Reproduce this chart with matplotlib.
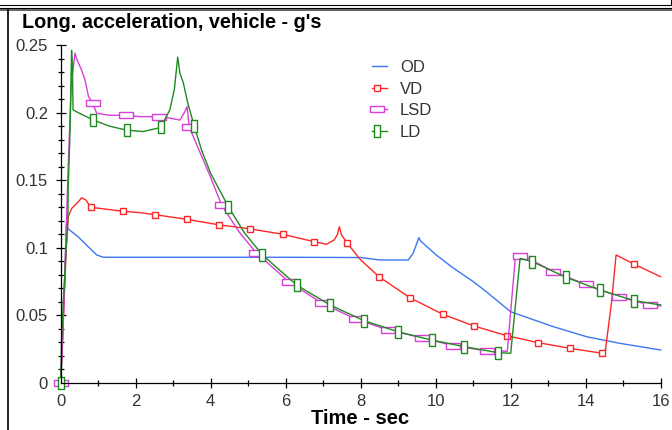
import matplotlib
matplotlib.use("Agg")
import matplotlib.pyplot as plt
import numpy as np
from matplotlib.lines import Line2D
from matplotlib.legend_handler import HandlerLine2DCompound
from matplotlib.ticker import MultipleLocator

plt.rcParams['font.family'] = ['Liberation Sans', 'DejaVu Sans']

od_t = [0, 0.05, 0.12, 0.15, 0.2, 0.47, 0.69, 0.96, 1.14, 2.0, 4.0, 6.0, 8.0, 8.5,
        9.27, 9.4, 9.55, 9.6, 10.0, 10.47, 11.0, 11.35, 12.0, 13.13, 14.03, 14.9, 16.0]
od_y = [0, 0.03, 0.09, 0.118, 0.114, 0.108, 0.102, 0.0947, 0.093, 0.093, 0.093, 0.093, 0.0928, 0.091,
        0.091, 0.096, 0.1075, 0.105, 0.095, 0.085, 0.075, 0.0675, 0.0527, 0.0417, 0.0342, 0.0294, 0.0244]

vd_t = [0, 0.15, 0.2, 0.29, 0.47, 0.56, 0.67, 0.8, 1.23, 1.66, 2.11, 2.52, 3.37, 4.22, 5.05,
        5.92, 6.76, 7.09, 7.3, 7.38, 7.43, 7.49, 7.63, 8.0, 8.49, 9.31, 10.19, 11.02, 11.89,
        12.74, 13.57, 14.44, 14.52, 14.69, 14.81, 15.3, 16.0]
vd_y = [0, 0.1, 0.123, 0.129, 0.134, 0.137, 0.1354, 0.130, 0.1285, 0.127, 0.126, 0.1245, 0.121, 0.117, 0.114,
        0.110, 0.1045, 0.1026, 0.106, 0.110, 0.1156, 0.1095, 0.1038, 0.091, 0.0786, 0.0631, 0.0508, 0.0422, 0.035,
        0.0298, 0.0257, 0.022, 0.023, 0.06, 0.0947, 0.0878, 0.0786]
vd_marks = [0.8, 1.66, 2.52, 3.37, 4.22, 5.05, 5.92, 6.76, 7.63, 8.49, 9.31, 10.19,
            11.02, 11.89, 12.74, 13.57, 14.44, 15.3]

lsd_t = [0, 0.1, 0.2, 0.28, 0.38, 0.45, 0.55, 0.65, 0.74, 0.85, 0.96, 1.31, 1.74, 2.11, 2.62,
         2.8, 3.18, 3.31, 3.37, 3.43, 3.54, 3.67, 4.0, 4.29, 4.75, 5.21, 6.1, 6.97, 7.87, 8.74,
         9.63, 10.47, 11.36, 11.91, 12.12, 12.25, 12.45, 13.14, 14.0, 14.89, 15.71, 16.0]
lsd_y = [0, 0.07, 0.16, 0.22, 0.244, 0.238, 0.232, 0.224, 0.212, 0.207, 0.1995, 0.198, 0.198, 0.197, 0.197,
         0.1965, 0.1945, 0.2006, 0.2044, 0.189, 0.182, 0.1735, 0.152, 0.1317, 0.112, 0.0964, 0.0745, 0.059, 0.0473, 0.0392,
         0.0335, 0.0276, 0.0237, 0.0235, 0.092, 0.0939, 0.0925, 0.0823, 0.073, 0.0638, 0.0577, 0.057]
lsd_marks = [0, 0.85, 1.74, 2.62, 3.43, 4.29, 5.21, 6.1, 6.97, 7.87, 8.74, 9.63, 10.47,
             11.36, 12.25, 13.14, 14.0, 14.89, 15.71]

ld_t = [0, 0.03, 0.07, 0.1, 0.14, 0.19, 0.2, 0.25, 0.29, 0.31, 0.33, 0.5, 0.87, 1.3, 1.76,
        2.2, 2.67, 2.74, 2.91, 3.03, 3.12, 3.18, 3.27, 3.38, 3.56, 3.76, 4.0, 4.47, 4.9, 5.38,
        6.29, 7.18, 8.09, 8.99, 9.89, 10.76, 11.67, 12.0, 12.25, 12.58, 13.47, 14.38, 15.29, 16.0]
ld_y = [0, 0.039, 0.059, 0.075, 0.098, 0.12, 0.145, 0.187, 0.246, 0.235, 0.202, 0.1995, 0.1945, 0.19, 0.187,
        0.186, 0.189, 0.193, 0.202, 0.217, 0.241, 0.229, 0.222, 0.208, 0.190, 0.172, 0.155, 0.1304, 0.111, 0.0947,
        0.0725, 0.0577, 0.0461, 0.0379, 0.0318, 0.0269, 0.0224, 0.022, 0.0922, 0.0897, 0.0782, 0.0688, 0.0609, 0.0577]
ld_marks = [0, 0.87, 1.76, 2.67, 3.56, 4.47, 5.38, 6.29, 7.18, 8.09, 8.99, 9.89, 10.76,
            11.67, 12.58, 13.47, 14.38, 15.29]

x_ticks = [0, 2, 4, 6, 8, 10, 12, 14, 16]
y_ticks = [0, 0.05, 0.1, 0.15, 0.2, 0.25]
y_tick_labels = ["0", "0.05", "0.1", "0.15", "0.2", "0.25"]

W, H = 672, 430

# marqueurs rectangulaires (couché pour LSD, debout pour LD)
rect_h = [(-1, -0.42), (1, -0.42), (1, 0.42), (-1, 0.42), (-1, -0.42)]
rect_v = [(-0.46, -1), (0.46, -1), (0.46, 1), (-0.46, 1), (-0.46, -1)]

series = [
    ("OD", od_t, od_y, None, "#3a78f2", None, 0),
    ("VD", vd_t, vd_y, vd_marks, "#ff2626", "s", 4.5),
    ("LSD", lsd_t, lsd_y, lsd_marks, "#d83ed8", rect_h, 9.4),
    ("LD", ld_t, ld_y, ld_marks, "#1f8a1f", rect_v, 8.8),
]

fig = plt.figure(figsize=(W / 100, H / 100), dpi=100)
ax = fig.add_axes([60.7 / W, 47 / H, 600 / W, 338 / H])

handles = []
for name, t, y, marks, color, marker, ms in series:
    if marker is None:
        ax.plot(t, y, color=color, lw=1.0, clip_on=False)
        handles.append(Line2D([], [], color=color, lw=1.0, label=name))
    else:
        every = list(np.isin(t, marks))
        ax.plot(t, y, color=color, lw=1.0, marker=marker, ms=ms, mfc="white",
                mec=color, mew=1.0, markevery=every, clip_on=False)
        handles.append(Line2D([], [], color=color, lw=1.0, marker=marker, ms=ms,
                              mfc="white", mec=color, mew=1.0, label=name))

ax.set_xlim(0, 16)
ax.set_ylim(0, 0.25)
ax.set_xticks(x_ticks)
ax.set_xticklabels([str(v) for v in x_ticks])
ax.set_yticks(y_ticks)
ax.set_yticklabels(y_tick_labels)
ax.xaxis.set_minor_locator(MultipleLocator(1))
ax.yaxis.set_minor_locator(MultipleLocator(0.01))

for s in ("top", "right"):
    ax.spines[s].set_visible(False)
for s in ("left", "bottom"):
    ax.spines[s].set_linewidth(0.9)
ax.tick_params(which="major", direction="inout", length=7.2, width=0.9,
               labelsize=12, labelcolor="#333333")
ax.tick_params(which="minor", direction="inout", length=4.3, width=0.9)
ax.tick_params(axis="y", which="major", pad=5.5)
ax.tick_params(axis="x", which="major", pad=4.3)


class MarqueurAGauche(HandlerLine2DCompound):
    def get_xdata(self, legend, xdescent, ydescent, width, height, fontsize):
        xdata = np.array([-xdescent, -xdescent + width])
        return xdata, np.array([-xdescent + 0.3 * width])


fig.legend(handles=handles, loc="upper left", bbox_to_anchor=(372 / W, 1 - 60 / H),
           frameon=False, fontsize=12, handlelength=0.9, handletextpad=0.78,
           labelspacing=0.4, borderpad=0, borderaxespad=0,
           handler_map={h: MarqueurAGauche() for h in handles}, labelcolor="#333333")

fig.text(22 / W, 1 - 28 / H, "Long. acceleration, vehicle - g's", fontsize=14.3,
         fontweight="bold", va="baseline", ha="left")
fig.text(360 / W, 1 - 424 / H, "Time - sec", fontsize=14.5, fontweight="bold",
         va="baseline", ha="center")

# cadre de la fenêtre
def trait(x0, y0, x1, y1, lw, color="black"):
    fig.add_artist(Line2D([x0 / W, x1 / W], [1 - y0 / H, 1 - y1 / H],
                          transform=fig.transFigure, lw=lw, color=color))

trait(0, 4.5, 670.5, 4.5, 0.8)
trait(670.5, 0, 670.5, 4.5, 0.8)
trait(0, 7.5, W, 7.5, 0.8)
trait(0, 9.5, W, 9.5, 1.3, "#555555")
trait(7.8, 9.5, 7.8, H, 1.2)

fig.savefig("out.png", dpi=100)
